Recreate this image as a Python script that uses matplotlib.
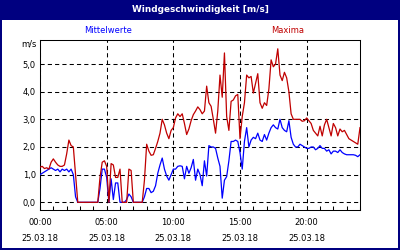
import numpy as np
import matplotlib
matplotlib.use("Agg")
import matplotlib.pyplot as plt
from matplotlib.patches import Rectangle

title = "Windgeschwindigkeit [m/s]"
series_names = ["Mittelwerte", "Maxima"]
unit_label = "m/s"
date_label = "25.03.18"
xtick_hours = [0, 5, 10, 15, 20]
xtick_times = ["00:00", "05:00", "10:00", "15:00", "20:00"]
ytick_values = [0, 1, 2, 3, 4, 5]
ytick_labels = ["0,0", "1,0", "2,0", "3,0", "4,0", "5,0"]
step_minutes = 10

# 10-minute mean wind speed (m/s), 00:00 .. 24:00
mittel = [
    1.0, 1.05, 1.1, 1.15, 1.2, 1.25, 1.2, 1.15, 1.2, 1.1, 1.2, 1.15,
    1.2, 1.1, 1.2, 1.0, 0.2, 0, 0, 0, 0, 0, 0, 0,
    0, 0, 0, 0.5, 1.2, 1.2, 0.9, 0.0, 0.85, 0.1, 0.7, 0.7,
    0, 0, 0, 0.1, 0.3, 0.2, 0, 0, 0, 0, 0, 0.2,
    0.5, 0.5, 0.35, 0.4, 0.6, 1.05, 1.35, 1.6, 1.2, 0.95, 0.8, 1.0,
    1.2, 1.2, 1.3, 1.32, 1.3, 0.85, 1.3, 1.05, 1.25, 1.55, 0.8, 1.2,
    1.0, 0.6, 1.5, 0.95, 2.05, 2.0, 2.0, 1.95, 1.6, 1.3, 0.15, 0.8,
    0.93, 1.5, 2.2, 2.2, 2.25, 2.2, 1.8, 1.2, 2.2, 2.7, 2.0, 2.25,
    2.35, 2.3, 2.5, 2.25, 2.2, 2.45, 2.25, 2.5, 2.7, 2.8, 2.7, 2.65,
    3.0, 2.7, 2.6, 2.55, 2.95, 2.35, 2.1, 2.0, 2.0, 2.1, 2.05, 2.0,
    1.95, 1.95, 2.0, 2.0, 1.9, 1.95, 2.05, 1.95, 1.95, 1.85, 1.9, 1.75,
    1.85, 1.85, 1.8, 1.9, 1.8, 1.75, 1.72, 1.72, 1.72, 1.72, 1.7, 1.65,
    1.72,
]

# 10-minute maximum wind speed (m/s)
maxima = [
    1.27, 1.3, 1.22, 1.25, 1.2, 1.45, 1.57, 1.45, 1.35, 1.3, 1.3, 1.35,
    1.75, 2.25, 2.05, 2.0, 1.0, 0, 0, 0, 0, 0, 0, 0,
    0, 0, 0, 0.9, 1.45, 1.5, 1.3, 0, 1.4, 1.35, 0.9, 0.9,
    1.2, 0, 0, 0, 1.2, 1.15, 0, 0, 0, 0, 0, 0.8,
    2.1, 1.85, 1.7, 1.72, 1.95, 2.2, 2.5, 3.0, 2.8, 2.5, 2.3, 2.6,
    2.7, 3.05, 3.2, 3.1, 3.2, 2.85, 2.45, 2.65, 2.95, 3.17, 3.3, 3.45,
    3.35, 3.2, 3.3, 4.2, 3.6, 3.47, 3.0, 2.5, 3.3, 4.6, 3.8, 5.4,
    3.1, 2.6, 3.65, 3.7, 3.85, 3.9, 2.3, 3.1, 3.6, 4.6, 4.5, 4.55,
    3.95, 4.3, 4.65, 3.6, 3.4, 3.6, 3.5, 4.1, 5.15, 4.9, 5.0, 5.55,
    4.6, 4.4, 4.7, 4.5, 4.0, 3.2, 3.0, 3.0, 3.0, 3.0, 2.93, 2.95,
    3.05, 2.95, 2.85, 2.6, 2.5, 2.4, 2.75, 2.4, 2.8, 3.0, 2.7, 2.4,
    2.85, 2.7, 2.4, 2.65, 2.55, 2.6, 2.45, 2.3, 2.25, 2.2, 2.15, 2.1,
    2.7,
]

NAVY = "#000080"
BLUE = "#0000ff"
RED = "#c00000"
W, H = 400, 250

fig = plt.figure(figsize=(4, 2.5), dpi=100)
fig.patch.set_facecolor(NAVY)
fig.add_artist(Rectangle((2 / W, 2 / H), (W - 4) / W, (H - 20 - 2) / H,
                         transform=fig.transFigure, facecolor="white",
                         edgecolor="none", zorder=0))
fig.text(0.5, 1 - 9.5 / H, title, color="white", weight="bold",
         ha="center", va="center", fontsize=6.4)

ax = fig.add_axes([40 / W, 40 / H, 320 / W, 170 / H])
ax.set_facecolor("white")

t = np.arange(len(mittel)) * step_minutes / 60.0
ax.plot(t, mittel, color=BLUE, lw=0.9, zorder=3)
ax.plot(t, maxima, color=RED, lw=0.9, zorder=4)

ax.set_xlim(0, 24)
ax.set_ylim(-0.278, 5.868)

ax.set_yticks(ytick_values)
ax.set_yticklabels(ytick_labels)
ax.set_xticks(xtick_hours)
ax.set_xticklabels([f"{s}\n{date_label}" for s in xtick_times])
ax.set_xticks(np.arange(0, 25, 1), minor=True)
for lbl in ax.get_xticklabels():
    lbl.set_linespacing(1.9)

ax.grid(True, which="major", color="black", lw=0.75, ls=(0, (4, 3)), zorder=1)
ax.tick_params(axis="x", which="both", direction="in", length=3, width=0.75,
               color="black", labelsize=6, pad=6)
ax.tick_params(axis="y", which="both", length=0, labelsize=6, pad=3)
for sp in ax.spines.values():
    sp.set_linewidth(0.75)
    sp.set_color("black")

fig.text(108 / W, 1 - 30.5 / H, series_names[0], color=BLUE,
         ha="center", va="center", fontsize=6)
fig.text(287.5 / W, 1 - 30.5 / H, series_names[1], color=RED,
         ha="center", va="center", fontsize=6)
fig.text(37 / W, 1 - 44.5 / H, unit_label, color="black",
         ha="right", va="center", fontsize=6)

fig.savefig("out.png", dpi=100, facecolor=fig.get_facecolor())
